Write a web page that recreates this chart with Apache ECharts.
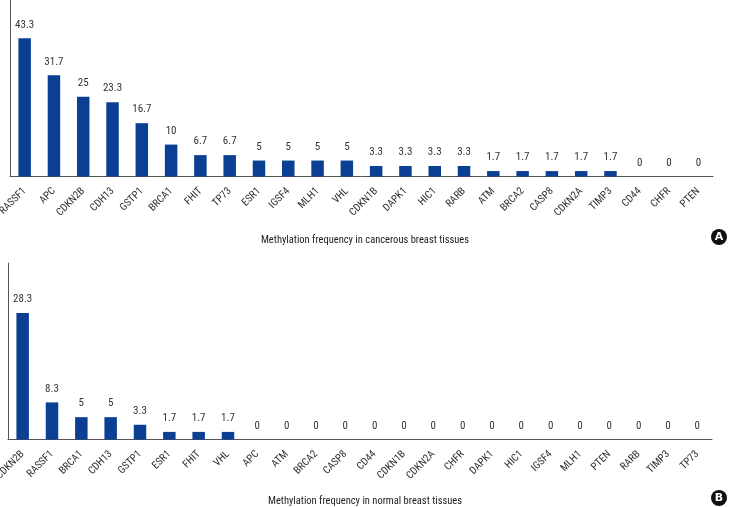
<!DOCTYPE html>
<html><head><meta charset="utf-8">
<script src="https://cdn.jsdelivr.net/npm/echarts@6/dist/echarts.min.js"></script>
<style>html,body{margin:0;padding:0;background:#fff}#c{width:730px;height:507px}</style>
</head><body><div id="c"></div>
<script>
const cancerGenes = ["RASSF1","APC","CDKN2B","CDH13","GSTP1","BRCA1","FHIT","TP73","ESR1","IGSF4","MLH1","VHL","CDKN1B","DAPK1","HIC1","RARB","ATM","BRCA2","CASP8","CDKN2A","TIMP3","CD44","CHFR","PTEN"];
const cancerValues = [43.3,31.7,25,23.3,16.7,10,6.7,6.7,5,5,5,5,3.3,3.3,3.3,3.3,1.7,1.7,1.7,1.7,1.7,0,0,0];
const normalGenes = ["CDKN2B","RASSF1","BRCA1","CDH13","GSTP1","ESR1","FHIT","VHL","APC","ATM","BRCA2","CASP8","CD44","CDKN1B","CDKN2A","CHFR","DAPK1","HIC1","IGSF4","MLH1","PTEN","RARB","TIMP3","TP73"];
const normalValues = [28.3,8.3,5,5,3.3,1.7,1.7,1.7,0,0,0,0,0,0,0,0,0,0,0,0,0,0,0,0];
const titleA = "Methylation frequency in cancerous breast tissues";
const titleB = "Methylation frequency in normal breast tissues";

const FONT = '"Roboto Condensed","DejaVu Sans Condensed",sans-serif';
const BAR = '#0b3f94';
const AX = '#555';

function xAx(idx, data){
  return {type:'category', gridIndex:idx, data:data,
    axisLine:{lineStyle:{color:AX,width:1}}, axisTick:{show:false},
    axisLabel:{rotate:45, interval:0, fontFamily:FONT, fontSize:10.5, color:'#333', margin:13}};
}
function yAx(idx, max){
  return {type:'value', gridIndex:idx, min:0, max:max,
    axisLine:{show:true, lineStyle:{color:AX,width:1}}, axisTick:{show:false},
    axisLabel:{show:false}, splitLine:{show:false}};
}
function ser(idx, vals){
  return {type:'bar', xAxisIndex:idx, yAxisIndex:idx, data:vals, barWidth:12.5,
    itemStyle:{color:BAR},
    label:{show:true, position:'top', distance:8, fontFamily:FONT, fontSize:11, color:'#333'}};
}
function badge(letter, x, y){
  return {type:'group', left:x-8, top:y-8, children:[
    {type:'circle', shape:{cx:8, cy:8, r:8}, style:{fill:'#111'}},
    {type:'text', x:8, y:8, style:{text:letter, fill:'#fff', font:'bold 11px "DejaVu Sans",sans-serif', textAlign:'center', textVerticalAlign:'middle'}}
  ]};
}

const chart = echarts.init(document.getElementById('c'), null, {renderer:'canvas'});
chart.setOption({
  animation:false,
  grid:[{left:10, right:17, top:0, height:176.5, containLabel:false, outerBoundsMode:'none'},
        {left:8, right:18, top:263, height:176.5, containLabel:false, outerBoundsMode:'none'}],
  xAxis:[xAx(0, cancerGenes), xAx(1, normalGenes)],
  yAxis:[yAx(0, 55.3), yAx(1, 39.5)],
  series:[ser(0, cancerValues), ser(1, normalValues)],
  graphic:[
    {type:'text', left:'center', top:235, style:{text:titleA, font:'10.5px '+FONT, fill:'#222'}},
    {type:'text', left:'center', top:496, style:{text:titleB, font:'10.5px '+FONT, fill:'#222'}},
    badge('A', 719, 237),
    badge('B', 719, 498)
  ]
});
</script></body></html>
